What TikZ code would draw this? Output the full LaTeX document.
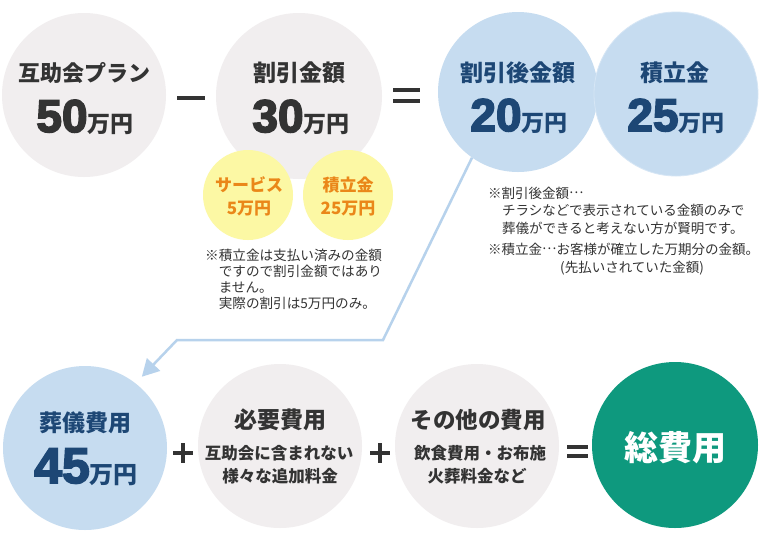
\documentclass[tikz,border=0pt]{standalone}
\usepackage{fontspec}
\newfontfamily\jp{Noto Sans CJK JP}
\newfontfamily\numf{Liberation Sans}[BoldFeatures={FakeBold=3.5}]
\usetikzlibrary{arrows.meta}
\definecolor{graybg}{HTML}{F1EEEF}
\definecolor{bluebg}{HTML}{C6DCF0}
\definecolor{blueedge}{HTML}{D6E6F5}
\definecolor{navy}{HTML}{1D4775}
\definecolor{darktxt}{HTML}{333333}
\definecolor{yellowbg}{HTML}{FCF8A4}
\definecolor{orangetxt}{HTML}{EA8719}
\definecolor{greenbg}{HTML}{0E997E}
\definecolor{linkblue}{HTML}{B7D2EC}
\newcommand{\fsz}[1]{\fontsize{#1pt}{#1pt}\selectfont}
\newcommand{\amount}[1]{{\numf\bfseries\fsz{46}#1}{\jp\bfseries\fsz{23}万円}}
\newcommand{\jdots}{\raisebox{0.32em}{…}}
\begin{document}
\begin{tikzpicture}[x=1pt,y=-1pt,
  disc/.style={circle,inner sep=0pt,minimum size=#1},
  graydisc/.style={disc=#1,fill=graybg},
  bluedisc/.style={disc=#1,fill=bluebg},
  txt/.style={inner sep=0pt,anchor=base,font=\jp\bfseries},
  note/.style={inner sep=0pt,anchor=base west,font=\jp\fsz{13.6},text=darktxt},
  opbar/.style={draw=darktxt,line width=4.5pt},
  link/.style={draw=linkblue,line width=2.5pt,line join=miter}
]
\useasboundingbox (0,0) rectangle (760,550);
\fill[white] (0,0) rectangle (760,550);

% top row circles
\node[graydisc=164pt] (c1) at (84,95) {};
\node[graydisc=166pt] (c2) at (299,96) {};
\node[disc=90pt,fill=yellowbg] (y1) at (248,195) {};
\node[disc=90pt,fill=yellowbg] (y2) at (348,195) {};
\node[bluedisc=160pt] (c3) at (518,92) {};
\node[bluedisc=164pt,draw=blueedge,line width=0.8pt] (c4) at (676,94) {};

% bottom row circles
\node[bluedisc=164pt] (d1) at (85,448) {};
\node[graydisc=164pt] (d2) at (280,446) {};
\node[graydisc=164pt] (d3) at (477,446) {};
\node[disc=166pt,fill=greenbg] (d4) at (675,445) {};

% operators
\coordinate (m1) at (177,98);  \coordinate (m2) at (205,98);
\draw[opbar] (m1) -- (m2);
\coordinate (e1a) at (393,90); \coordinate (e1b) at (420,90);
\coordinate (e2a) at (393,101); \coordinate (e2b) at (420,101);
\draw[opbar] (e1a) -- (e1b);
\draw[opbar] (e2a) -- (e2b);

\coordinate (p1l) at (173,453); \coordinate (p1r) at (193,453);
\coordinate (p1t) at (183,443); \coordinate (p1b) at (183,463);
\draw[opbar,line width=3.5pt] (p1l) -- (p1r);
\draw[opbar,line width=3.5pt] (p1t) -- (p1b);
\coordinate (p2l) at (370,453); \coordinate (p2r) at (390,453);
\coordinate (p2t) at (380,443); \coordinate (p2b) at (380,463);
\draw[opbar,line width=3.5pt] (p2l) -- (p2r);
\draw[opbar,line width=3.5pt] (p2t) -- (p2b);
\coordinate (q1a) at (567,447); \coordinate (q1b) at (588,447);
\coordinate (q2a) at (567,456); \coordinate (q2b) at (588,456);
\draw[opbar,line width=4pt] (q1a) -- (q1b);
\draw[opbar,line width=4pt] (q2a) -- (q2b);

% connector
\coordinate (k1) at (383,340);
\coordinate (k2) at (177,340);
\draw[link,-{Triangle[length=17pt,width=18pt]},shorten >=9pt]
  (c3.235) -- (k1) -- (k2) -- (d1.52);

% texts top
\node[txt,text=darktxt,font=\jp\bfseries\fsz{22}] (t1) at (84,81) {互助会プラン};
\node[txt,text=darktxt] (a1) at (85,132) {\amount{50}};
\node[txt,text=darktxt,font=\jp\bfseries\fsz{23}] (t2) at (299,81) {割引金額};
\node[txt,text=darktxt] (a2) at (301,132) {\amount{30}};
\node[txt,text=orangetxt,font=\jp\bfseries\fsz{17}] (ty1) at (249,191.5) {サービス};
\node[txt,text=orangetxt,font=\jp\bfseries\fsz{17}] (ty1b) at (249,214.5) {5万円};
\node[txt,text=orangetxt,font=\jp\bfseries\fsz{17}] (ty2) at (348,191.5) {積立金};
\node[txt,text=orangetxt,font=\jp\bfseries\fsz{17}] (ty2b) at (348,214.5) {25万円};
\node[txt,text=navy,font=\jp\bfseries\fsz{23}] (t3) at (518,81) {割引後金額};
\node[txt,text=navy] (a3) at (519,131) {\amount{20}};
\node[txt,text=navy,font=\jp\bfseries\fsz{23}] (t4) at (675,81) {積立金};
\node[txt,text=navy] (a4) at (676,131) {\amount{25}};

% notes
\node[note] (n1) at (205,260) {※積立金は支払い済みの金額};
\node[note] (n2) at (218.6,276) {ですので割引金額ではあり};
\node[note] (n3) at (218.6,292) {ません。};
\node[note] (n4) at (218.6,308.5) {実際の割引は5万円のみ。};

\node[note,font=\jp\fsz{13.5}] (r1) at (488,198) {※割引後金額\jdots};
\node[note,font=\jp\fsz{13.5}] (r2) at (502,215.5) {チラシなどで表示されている金額のみで};
\node[note,font=\jp\fsz{13.5}] (r3) at (502,233) {葬儀ができると考えない方が賢明です。};
\node[note,font=\jp\fsz{13.5}] (r4) at (488,254) {※積立金\jdots お客様が確立した万期分の金額。};
\node[note,font=\jp\fsz{13.5}] (r5) at (560,272) {(先払いされていた金額)};

% texts bottom
\node[txt,text=navy,font=\jp\bfseries\fsz{23}] (b1) at (85,431) {葬儀費用};
\node[txt,text=navy] (ba1) at (86,483) {{\numf\bfseries\fsz{50}45}{\jp\bfseries\fsz{24}万円}};
\node[txt,text=darktxt,font=\jp\bfseries\fsz{23}] (b2) at (280,428) {必要費用};
\node[txt,text=darktxt,font=\jp\bfseries\fsz{16.5}] (b2a) at (279,459) {互助会に含まれない};
\node[txt,text=darktxt,font=\jp\bfseries\fsz{16.5}] (b2b) at (280,482) {様々な追加料金};
\node[txt,text=darktxt,font=\jp\bfseries\fsz{22.5}] (b3) at (478,428) {その他の費用};
\node[txt,text=darktxt,font=\jp\bfseries\fsz{16.5}] (b3a) at (480,459) {飲食費用・お布施};
\node[txt,text=darktxt,font=\jp\bfseries\fsz{16.5}] (b3b) at (477,482) {火葬料金など};
\node[txt,text=white,font=\jp\bfseries\fsz{34}] (b4) at (675,460.5) {総費用};
\end{tikzpicture}
\end{document}
